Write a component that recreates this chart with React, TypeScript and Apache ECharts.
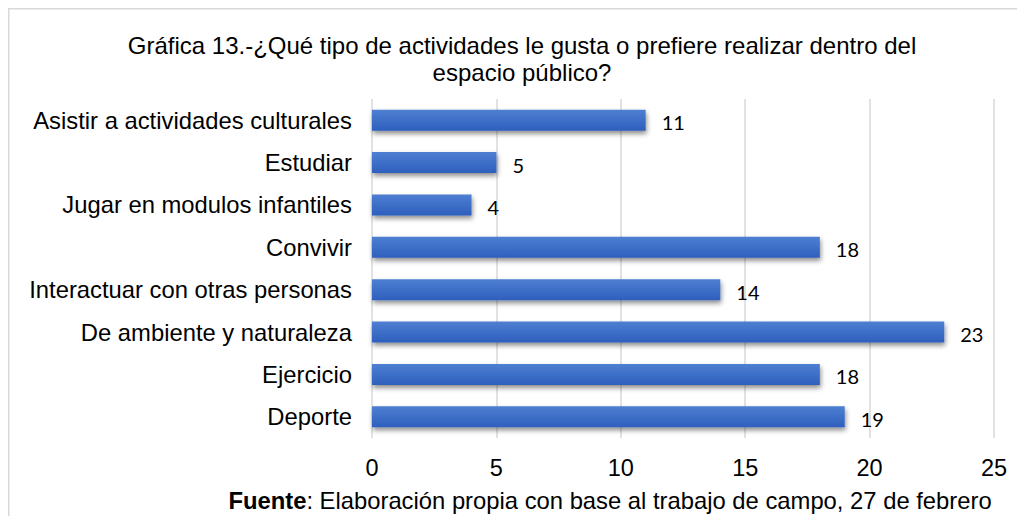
import React, { useEffect, useRef } from "react";
import * as echarts from "echarts";

const categories = [
  "Deporte",
  "Ejercicio",
  "De ambiente y naturaleza",
  "Interactuar con otras personas",
  "Convivir",
  "Jugar en modulos infantiles",
  "Estudiar",
  "Asistir a actividades culturales",
];
const values = [19, 18, 23, 14, 18, 4, 5, 11];
const xTicks = [0, 5, 10, 15, 20, 25];
const titleText =
  "Gráfica 13.-¿Qué tipo de actividades le gusta o prefiere realizar dentro del\nespacio público?";
const sourceBold = "Fuente";
const sourceRest = ": Elaboración propia con base al trabajo de campo, 27 de febrero";

export default function App() {
  const ref = useRef<HTMLDivElement>(null);
  useEffect(() => {
    if (!ref.current) return;
    const chart = echarts.init(ref.current, null, { renderer: "svg" });
    const arial = "'Liberation Sans', Arial, sans-serif";
    chart.setOption({
      animation: false,
      backgroundColor: "#ffffff",
      grid: { left: 364, right: 23, top: 91, bottom: 78, containLabel: false },
      xAxis: {
        type: "value",
        min: xTicks[0],
        max: xTicks[xTicks.length - 1],
        interval: 5,
        axisLine: { show: false },
        axisTick: { show: false },
        splitLine: { show: true, lineStyle: { color: "#d9d9d9", width: 1.5 } },
        axisLabel: { color: "#000", fontFamily: arial, fontSize: 23.5, margin: 18 },
      },
      yAxis: {
        type: "category",
        data: categories,
        axisLine: { show: false },
        axisTick: { show: false },
        axisLabel: { color: "#000", fontFamily: arial, fontSize: 23.8, margin: 20 },
      },
      series: [
        {
          type: "bar",
          data: values,
          barWidth: 21,
          itemStyle: {
            color: new echarts.graphic.LinearGradient(0, 0, 0, 1, [
              { offset: 0, color: "#4e7fd2" },
              { offset: 1, color: "#2e5fbd" },
            ]),
            shadowBlur: 5,
            shadowOffsetX: 1,
            shadowOffsetY: 3,
            shadowColor: "rgba(0,0,0,0.45)",
          },
          label: {
            show: true,
            position: "right",
            distance: 16,
            offset: [0, 2],
            color: "#000",
            fontFamily: "Lato, 'Open Sans', sans-serif",
            fontSize: 20,
          },
        },
      ],
      graphic: [
        {
          type: "rect",
          shape: { x: 0.5, y: 0.5, width: 1200, height: 700 },
          style: { fill: "none", stroke: "#d9d9d9", lineWidth: 2 },
          silent: true,
        },
        {
          type: "text",
          x: 514,
          y: 23.5,
          style: {
            text: titleText,
            fill: "#000",
            fontSize: 24,
            fontFamily: arial,
            lineHeight: 27,
            align: "center",
            verticalAlign: "top",
          },
        },
        {
          type: "text",
          x: 602,
          y: 492,
          style: {
            text: `{b|${sourceBold}}{n|${sourceRest}}`,
            align: "center",
            verticalAlign: "middle",
            rich: {
              b: { fontFamily: arial, fontSize: 23.8, fontWeight: "bold", fill: "#000" },
              n: { fontFamily: arial, fontSize: 23.8, fill: "#000" },
            },
          },
        },
      ],
    });
    return () => chart.dispose();
  }, []);
  return <div ref={ref} style={{ width: 1009, height: 508 }} />;
}
